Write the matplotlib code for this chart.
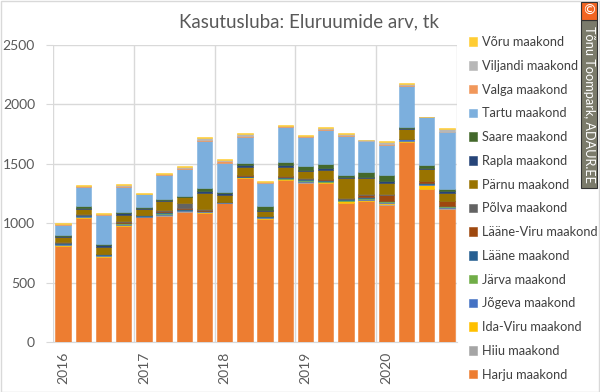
import matplotlib
matplotlib.use("Agg")
import matplotlib.pyplot as plt
from matplotlib.patches import Rectangle
import numpy as np

plt.rcParams['font.family'] = ['Lato', 'DejaVu Sans']

quarters = ["2016 Q1", "2016 Q2", "2016 Q3", "2016 Q4",
            "2017 Q1", "2017 Q2", "2017 Q3", "2017 Q4",
            "2018 Q1", "2018 Q2", "2018 Q3", "2018 Q4",
            "2019 Q1", "2019 Q2", "2019 Q3", "2019 Q4",
            "2020 Q1", "2020 Q2", "2020 Q3", "2020 Q4"]
year_labels = ["2016", "2017", "2018", "2019", "2020"]

harju      = [808, 1041, 713, 976, 1049, 1063, 1097, 1083, 1167, 1378, 1033, 1364, 1341, 1336, 1167, 1189, 1156, 1684, 1288, 1122]
hiiu       = [2, 2, 2, 3, 1, 2, 2, 0, 1, 2, 2, 2, 2, 2, 2, 2, 2, 2, 2, 2]
ida_viru   = [8, 10, 8, 8, 4, 6, 5, 8, 4, 8, 6, 5, 8, 8, 14, 6, 15, 10, 28, 8]
jogeva     = [5, 5, 6, 5, 4, 8, 4, 10, 3, 3, 10, 5, 5, 4, 6, 8, 8, 10, 8, 6]
jarva      = [3, 3, 5, 6, 3, 5, 6, 2, 2, 2, 3, 3, 10, 8, 5, 4, 4, 2, 4, 4]
laane      = [4, 4, 4, 5, 4, 7, 3, 3, 2, 2, 4, 8, 4, 4, 6, 10, 6, 2, 6, 6]
laane_viru = [6, 8, 3, 10, 2, 12, 8, 9, 1, 10, 2, 12, 6, 9, 6, 16, 50, 1, 20, 39]
polva      = [3, 4, 2, 4, 2, 8, 48, 2, 1, 1, 1, 1, 1, 1, 3, 10, 4, 1, 2, 2]
parnu      = [45, 40, 56, 53, 50, 79, 45, 140, 56, 70, 42, 70, 62, 76, 168, 132, 90, 81, 98, 64]
rapla      = [10, 12, 14, 12, 8, 7, 5, 16, 14, 12, 8, 18, 12, 14, 16, 8, 22, 7, 8, 14]
saare      = [8, 14, 14, 16, 12, 7, 6, 20, 14, 16, 34, 24, 30, 36, 12, 42, 45, 7, 28, 22]
tartu      = [85, 160, 244, 205, 104, 202, 224, 401, 244, 224, 196, 300, 247, 286, 328, 261, 258, 345, 398, 477]
valga      = [3, 8, 4, 10, 3, 6, 10, 10, 14, 6, 6, 6, 6, 10, 12, 6, 8, 12, 2, 5]
viljandi   = [3, 5, 4, 10, 2, 3, 10, 10, 8, 16, 4, 2, 4, 6, 10, 4, 14, 10, 2, 24]
voru       = [5, 5, 4, 8, 3, 5, 8, 8, 6, 6, 4, 6, 4, 6, 6, 4, 6, 6, 4, 10]

series_names = ["Harju maakond", "Hiiu maakond", "Ida-Viru maakond", "Jõgeva maakond",
                "Järva maakond", "Lääne maakond", "Lääne-Viru maakond", "Põlva maakond",
                "Pärnu maakond", "Rapla maakond", "Saare maakond", "Tartu maakond",
                "Valga maakond", "Viljandi maakond", "Võru maakond"]
series_values = [harju, hiiu, ida_viru, jogeva, jarva, laane, laane_viru, polva,
                 parnu, rapla, saare, tartu, valga, viljandi, voru]
colors = ["#ED7D31", "#A5A5A5", "#FFC000", "#4472C4", "#70AD47", "#255E91",
          "#9E480E", "#636363", "#997300", "#264478", "#43682B", "#7CAFDD",
          "#F1975A", "#B7B7B7", "#FFCD33"]

W, H = 600, 392
fig = plt.figure(figsize=(W / 100, H / 100), dpi=100)
ax = fig.add_axes([53 / W, 1 - 342 / H, (457 - 53) / W, (342 - 45) / H])

x = np.arange(len(quarters))
bottom = np.zeros(len(quarters))
handles = []
for name, vals, c in zip(series_names, series_values, colors):
    v = np.array(vals, dtype=float)
    b = ax.bar(x, v, width=0.76, bottom=bottom, color=c, label=name,
               edgecolor=c, linewidth=0.4, zorder=3)
    handles.append(b)
    bottom += v

ax.set_xlim(-0.5, len(quarters) - 0.5)
ax.set_ylim(0, 2500)
ax.set_yticks(np.arange(0, 2501, 500))
ax.set_yticklabels([str(v) for v in range(0, 2501, 500)])
ax.set_xticks(np.arange(0, len(quarters), 4))
ax.set_xticklabels(year_labels, rotation=90, va='top', ha='center')
ax.set_xticks(np.arange(-0.5, len(quarters), 4), minor=True)

ax.grid(axis='y', which='major', color='#D9D9D9', linewidth=1, zorder=0)
ax.grid(axis='x', which='minor', color='#D9D9D9', linewidth=1, zorder=0)
ax.grid(axis='x', which='major', visible=False)
for s in ['top', 'right', 'left']:
    ax.spines[s].set_visible(False)
ax.spines['bottom'].set_color('#D9D9D9')
ax.tick_params(axis='y', which='major', length=5, color='#D9D9D9', labelsize=10,
               labelcolor='#595959', pad=8)
ax.tick_params(axis='x', which='major', length=0, labelsize=10, labelcolor='#595959', pad=7)
ax.tick_params(axis='x', which='minor', length=0)
ax.set_axisbelow(True)

fig.text(309 / W, 1 - 22 / H, "Kasutusluba: Eluruumide arv, tk", ha='center', va='center',
         fontsize=13.5, color='#595959')

leg = fig.legend(handles=handles[::-1], labels=series_names[::-1], loc='upper left',
                 bbox_to_anchor=(469 / W, 1 - 36 / H), frameon=False, fontsize=9.2,
                 handlelength=0.65, handleheight=0.65, handletextpad=0.35,
                 labelspacing=0.92, borderaxespad=0, borderpad=0)
for t in leg.get_texts():
    t.set_color('#404040')

# figure border
fig.patches.append(Rectangle((0.5 / W, 0.5 / H), 1 - 1.5 / W, 1 - 1.5 / H, transform=fig.transFigure,
                             fill=False, edgecolor='#D9D9D9', linewidth=1))

# watermark
fig.patches.append(Rectangle((581 / W, 1 - 188 / H), 16 / W, (188 - 20) / H, transform=fig.transFigure,
                             facecolor='#7B7B6B', edgecolor='#333333', linewidth=0.8))
fig.patches.append(Rectangle((581 / W, 1 - 20 / H), 16 / W, 18 / H, transform=fig.transFigure,
                             facecolor='#F26522', edgecolor='#333333', linewidth=0.8))
fig.text(589 / W, 1 - 11 / H, "©", ha='center', va='center', fontsize=10, color='white',
         family=['DejaVu Sans'])
fig.text(589 / W, 1 - 104 / H, "Tõnu Toompark, ADAUR.EE", ha='center', va='center',
         rotation=-90, fontsize=9.2, color='white')

fig.savefig("out.png", dpi=100)
